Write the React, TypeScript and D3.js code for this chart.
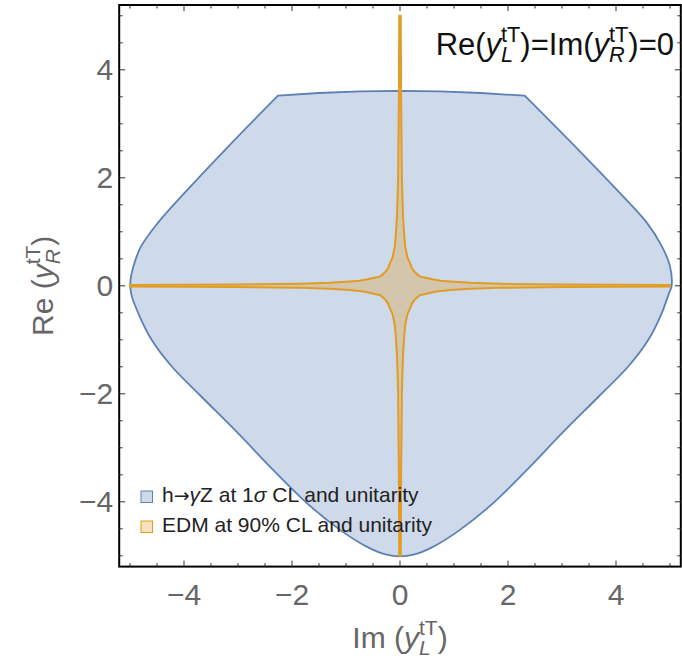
import React, { useEffect, useRef } from "react";
import * as d3 from "d3";

// axis ticks (same on both axes)
const majorTicks = [-4, -2, 0, 2, 4];
const majorLabels = ["\u22124", "\u22122", "0", "2", "4"];
const minorTicks = [-5, -4.5, -3.5, -3, -2.5, -1.5, -1, -0.5, 0.5, 1, 1.5, 2.5, 3, 3.5, 4.5, 5];

// h -> gamma Z region: flat-ish top between the two corners (Im y_L, Re y_R)
const topX = [-2.26, -1.5, -0.75, 0, 0.75, 1.5, 2.31];
const topY = [3.52, 3.57, 3.6, 3.61, 3.6, 3.57, 3.52];
// the rest of the boundary, clockwise from the right corner round to the left corner
const sideX = [2.31, 3.33, 4.07, 4.57, 4.85, 5.0, 5.03, 4.98, 4.85, 4.6, 4.23, 3.68, 3.0, 2.35, 1.73, 1.11, 0.62, 0.25, 0,
  -0.25, -0.62, -1.11, -1.73, -2.35, -3.0, -3.68, -4.23, -4.6, -4.85, -4.98, -4.99, -4.94, -4.8, -4.48, -3.99, -3.19, -2.26];
const sideY = [3.52, 2.49, 1.72, 1.17, 0.73, 0.36, 0, -0.14, -0.5, -1.0, -1.49, -2.05, -2.73, -3.41, -4.02, -4.52, -4.83, -4.98, -5.01,
  -4.98, -4.83, -4.52, -4.02, -3.41, -2.73, -2.05, -1.49, -1.0, -0.5, -0.14, 0.11, 0.35, 0.72, 1.17, 1.72, 2.57, 3.52];

// EDM band edge in one quadrant, from the vertical arm to the horizontal arm
const edmX = [0.014, 0.02, 0.035, 0.05, 0.06, 0.08, 0.1, 0.14, 0.185, 0.22, 0.26, 0.3, 0.37, 0.45, 0.6, 0.75, 0.93, 1.3, 1.85, 3, 5];
const edmY = [5, 3.5, 2, 1.45, 1.22, 0.9, 0.7, 0.52, 0.42, 0.33, 0.27, 0.23, 0.17, 0.155, 0.12, 0.095, 0.08, 0.055, 0.037, 0.023, 0.014];

const legendLabels = ["h", "EDM at 90% CL and unitarity"];

const blue = "#5E81B5";
const orange = "#E19C24";

export default function App() {
  const ref = useRef<SVGSVGElement>(null);

  useEffect(() => {
    const svg = d3.select(ref.current);
    svg.selectAll("*").remove();

    const left = 119.2, top = 5, size = 561.6;
    const x = d3.scaleLinear().domain([-5.2, 5.2]).range([left, left + size]);
    const y = d3.scaleLinear().domain([-5.2, 5.2]).range([top + size, top]);

    const straight = d3.line<[number, number]>()
      .x(d => x(d[0]))
      .y(d => y(d[1]));
    const smooth = d3.line<[number, number]>()
      .x(d => x(d[0]))
      .y(d => y(d[1]))
      .curve(d3.curveCatmullRom.alpha(0.5));

    // blue region: straight top, smooth sides, joined into one closed path
    const topPts: [number, number][] = topX.map((v, i) => [v, topY[i]]);
    const sidePts: [number, number][] = sideX.map((v, i) => [v, sideY[i]]);
    const sidePath = (smooth(sidePts) || "").replace(/^M[^CL]*/, "");
    svg.append("path")
      .attr("d", straight(topPts) + sidePath + "Z")
      .attr("fill", blue)
      .attr("fill-opacity", 0.3)
      .attr("stroke", blue)
      .attr("stroke-width", 1.8)
      .attr("stroke-linejoin", "round");

    // EDM cross, quadrant mirrored round
    const n = edmX.length;
    const edm: [number, number][] = [];
    for (let i = 0; i < n; i++) edm.push([edmX[i], edmY[i]]);
    for (let i = n - 1; i >= 0; i--) edm.push([edmX[i], -edmY[i]]);
    for (let i = 0; i < n; i++) edm.push([-edmX[i], -edmY[i]]);
    for (let i = n - 1; i >= 0; i--) edm.push([-edmX[i], edmY[i]]);
    svg.append("path")
      .attr("d", straight(edm) + "Z")
      .attr("fill", orange)
      .attr("fill-opacity", 0.3)
      .attr("stroke", orange)
      .attr("stroke-width", 2)
      .attr("stroke-linejoin", "round");

    // frame
    svg.append("rect")
      .attr("x", left).attr("y", top)
      .attr("width", size).attr("height", size)
      .attr("fill", "none")
      .attr("stroke", "#000")
      .attr("stroke-width", 2);

    // frame ticks on all four sides
    const ticks = svg.append("g").attr("stroke", "#333").attr("stroke-width", 1);
    const addTicks = (vals: number[], len: number) => {
      vals.forEach(v => {
        ticks.append("line").attr("x1", x(v)).attr("x2", x(v)).attr("y1", top + size).attr("y2", top + size - len);
        ticks.append("line").attr("x1", x(v)).attr("x2", x(v)).attr("y1", top).attr("y2", top + len);
        ticks.append("line").attr("y1", y(v)).attr("y2", y(v)).attr("x1", left).attr("x2", left + len);
        ticks.append("line").attr("y1", y(v)).attr("y2", y(v)).attr("x1", left + size).attr("x2", left + size - len);
      });
    };
    addTicks(majorTicks, 6);
    addTicks(minorTicks, 3.5);

    const font = "'Liberation Sans', Arial, sans-serif";

    // tick labels
    majorTicks.forEach((v, i) => {
      svg.append("text")
        .attr("x", x(v)).attr("y", top + size + 38)
        .attr("text-anchor", "middle")
        .style("font-family", font).style("font-size", "30px").attr("fill", "#666")
        .text(majorLabels[i]);
      svg.append("text")
        .attr("x", left - 6).attr("y", y(v)).attr("dy", "0.35em")
        .attr("text-anchor", "end")
        .style("font-family", font).style("font-size", "30px").attr("fill", "#666")
        .text(majorLabels[i]);
    });

    // y with stacked super/subscript, returns offsets for what follows
    function yScript(t: any, sup: string, sub: string, fs: number) {
      t.append("tspan").style("font-style", "italic").text("y");
      const s = t.append("tspan").attr("dy", -0.43 * fs).style("font-size", 0.7 * fs + "px").text(sup);
      const wSup = s.node().getComputedTextLength();
      const b = t.append("tspan").attr("dx", -wSup).attr("dy", 0.66 * fs)
        .style("font-size", 0.7 * fs + "px").style("font-style", "italic").text(sub);
      const wSub = b.node().getComputedTextLength();
      return { dx: Math.max(0, wSup - wSub), dy: -0.23 * fs };
    }

    // x axis title
    const xt = svg.append("text")
      .attr("x", x(0)).attr("y", 648)
      .attr("text-anchor", "middle")
      .style("font-family", font).style("font-size", "30px").attr("fill", "#666");
    xt.append("tspan").text("Im (");
    let o = yScript(xt, "tT", "L", 30);
    xt.append("tspan").attr("dx", o.dx).attr("dy", o.dy).text(")");

    // y axis title
    const yt = svg.append("text")
      .attr("transform", "translate(53," + y(0) + ") rotate(-90)")
      .attr("text-anchor", "middle")
      .style("font-family", font).style("font-size", "30px").attr("fill", "#666");
    yt.append("tspan").text("Re (");
    o = yScript(yt, "tT", "R", 30);
    yt.append("tspan").attr("dx", o.dx).attr("dy", o.dy).text(")");

    // annotation
    const an = svg.append("text")
      .attr("x", 674).attr("y", 55)
      .attr("text-anchor", "end")
      .style("font-family", font).style("font-size", "31px").attr("fill", "#111");
    an.append("tspan").text("Re(");
    o = yScript(an, "tT", "L", 31);
    an.append("tspan").attr("dx", o.dx).attr("dy", o.dy).text(")=Im(");
    o = yScript(an, "tT", "R", 31);
    an.append("tspan").attr("dx", o.dx).attr("dy", o.dy).text(")=0");

    // legend
    const lg = svg.append("g").style("font-family", font).style("font-size", "21px");
    [blue, orange].forEach((c, i) => {
      lg.append("rect")
        .attr("x", 141).attr("y", 491 + i * 30)
        .attr("width", 11.5).attr("height", 11.5)
        .attr("fill", c).attr("fill-opacity", 0.3)
        .attr("stroke", c).attr("stroke-width", 1);
    });
    const l1 = lg.append("text").attr("x", 162).attr("y", 502).attr("fill", "#222");
    l1.append("tspan").text(legendLabels[0]);
    l1.append("tspan").style("font-family", "'DejaVu Sans', sans-serif").style("font-size", "19px").text("\u2192");
    l1.append("tspan").style("font-style", "italic").text("\u03b3");
    l1.append("tspan").text("Z at 1");
    l1.append("tspan").style("font-style", "italic").text("\u03c3");
    l1.append("tspan").text(" CL and unitarity");
    lg.append("text").attr("x", 162).attr("y", 532).attr("fill", "#222").text(legendLabels[1]);
  }, []);

  return (
    <svg ref={ref} width={682} height={665}
      style={{ position: "absolute", left: 0, top: 0, background: "#fff" }} />
  );
}
